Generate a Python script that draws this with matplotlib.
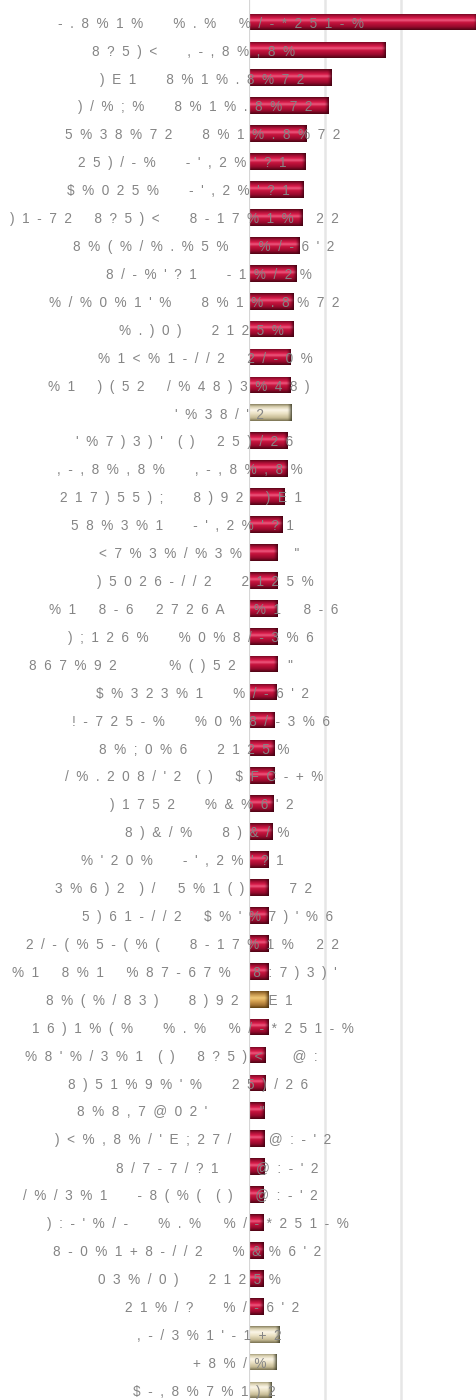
import numpy as np
import matplotlib
matplotlib.use("Agg")
import matplotlib.pyplot as plt
from matplotlib.colors import to_rgb
from matplotlib.transforms import blended_transform_factory

# ---- data -------------------------------------------------------------
labels = [
    "-.8%1%   %.%  %/-*251-%",
    "8?5)<   ,-,8%,8%",
    ")E1   8%1%.8%72",
    ")/%;%   8%1%.8%72",
    "5%38%72   8%1%.8%72",
    "25)/-%   -',2%'?1",
    "$%025%   -',2%'?1",
    ")1-72  8?5)<   8-17%1%  22",
    "8%(%/%.%5%   %/-6'2",
    "8/-%'?1   -1%/2%",
    "%/%0%1'%   8%1%.8%72",
    "%.)0)   2125%",
    "%1<%1-//2  2/-0%",
    "%1  )(52  /%48)3%48)",
    "'%38/'2",
    "'%7)3)' ()  25)/26",
    ",-,8%,8%   ,-,8%,8%",
    "217)55);   8)92  )E1",
    "58%3%1   -',2%'?1",
    '<7%3%/%3%      "',
    ")5026-//2   2125%",
    "%1  8-6  2726A   %1  8-6",
    ");126%   %0%8/-3%6",
    '867%92      %()52      "',
    "$%323%1   %/-6'2",
    "!-725-%   %0%8/-3%6",
    "8%;0%6   2125%",
    "/%.208/'2 ()  $FC-+%",
    ")1752   %&%6'2",
    "8)&/%   8)&/%",
    "%'20%   -',2%'?1",
    "3%6)2 )/  5%1()     72",
    "5)61-//2  $%'%7)'%6",
    "2/-(%5-(%(   8-17%1%  22",
    "%1  8%1  %87-67%  8:7)3)'",
    "8%(%/83)   8)92   E1",
    "16)1%(%   %.%  %/-*251-%",
    "%8'%/3%1 ()  8?5)<   @:",
    "8)51%9%'%   25)/26",
    '8%8,7@02\'      "',
    ")<%,8%/'E;27/    @:-'2",
    "8/7-7/?1    @:-'2",
    "/%/3%1   -8(%( ()  @:-'2",
    "):-'%/-   %.%  %/-*251-%",
    "8-0%1+8-//2   %&%6'2",
    "03%/0)   2125%",
    "21%/?   %/-6'2",
    ",-/3%1'-1+2",
    "+8%/%",
    "$-,8%7%1)2",
]

values = [
    30.0, 18.0, 10.9, 10.4, 7.5, 7.4, 7.2, 7.0, 6.6, 6.3,
    5.9, 5.8, 5.5, 5.4, 5.6, 5.0, 5.0, 4.7, 4.4, 3.8,
    3.8, 3.8, 3.7, 3.7, 3.6, 3.4, 3.4, 3.3, 3.2, 3.1,
    2.6, 2.6, 2.6, 2.6, 2.6, 2.6, 2.5, 2.2, 2.2, 2.1,
    2.1, 2.1, 1.9, 1.9, 1.9, 1.9, 1.9, 4.0, 3.6, 3.0,
]

tones = ["red"] * 50
tones[14] = "cream"
tones[35] = "gold"
tones[47] = tones[48] = tones[49] = "cream"

# left edge of each label, in figure pixels
label_left = [
    58, 92, 100, 78, 65, 78, 67, 10, 73, 106,
    49, 119, 98, 48, 175, 76, 57, 60, 71, 99,
    97, 49, 68, 29, 96, 72, 99, 65, 110, 125,
    81, 55, 82, 26, 12, 46, 32, 25, 68, 77,
    55, 116, 23, 47, 53, 98, 125, 137, 193, 133,
]

# ---- styling ----------------------------------------------------------
W, H = 476, 1400
AX_LEFT = 249
PX_PER_UNIT = 7.6
ROW_TOP, ROW_BOTTOM = 22, 1390

palettes = {
    # vertical stops (position, colour) from the top edge to the bottom edge
    "red": [(0.0, "#5a0618"), (0.12, "#9c0c30"), (0.30, "#d81c4a"),
            (0.42, "#ee5a80"), (0.55, "#c8143e"), (0.80, "#9a0a2e"),
            (1.0, "#4e0414")],
    "cream": [(0.0, "#8a8262"), (0.15, "#d8cfae"), (0.35, "#fbf6e8"),
              (0.55, "#ece3c6"), (0.82, "#c6bb94"), (1.0, "#7a7252")],
    "gold": [(0.0, "#7a5420"), (0.18, "#c09048"), (0.40, "#f0c878"),
             (0.60, "#d4a050"), (0.85, "#a07030"), (1.0, "#604010")],
}
cap_colors = {"red": "#3e0010", "cream": "#3e3e2a", "gold": "#4a3010"}
base_colors = {"red": "#c8143e", "cream": "#e8dfc2", "gold": "#d4a050"}


def profile(stops, n=48):
    t = np.linspace(0, 1, n)
    pos = [p for p, _ in stops]
    cols = np.array([to_rgb(c) for _, c in stops])
    return np.stack([np.interp(t, pos, cols[:, k]) for k in range(3)], axis=-1)


def tracked(s):
    out = []
    for ch in s:
        out.append("  " if ch == " " else ch + "  ")
    return "".join(out).rstrip()


fig = plt.figure(figsize=(W / 100, H / 100), dpi=100)
fig.patch.set_facecolor("white")
ax = fig.add_axes([AX_LEFT / W, 0, 1 - AX_LEFT / W, 1])
ax.set_facecolor("white")

n = len(values)
rows = np.arange(n)
step = (ROW_BOTTOM - ROW_TOP) / (n - 1)
y_top = -ROW_TOP / step
y_bot = (n - 1) + (H - ROW_BOTTOM) / step
x_max = (W - AX_LEFT) / PX_PER_UNIT

bars = ax.barh(rows, values, height=0.6,
               color=[base_colors[t] for t in tones], linewidth=0, zorder=2)

cap_w = 4.5 / PX_PER_UNIT
for patch, tone in zip(bars.patches, tones):
    x0, y0 = patch.get_x(), patch.get_y()
    w, h = patch.get_width(), patch.get_height()
    prof = profile(palettes[tone])
    body = prof[:, None, :]
    im = ax.imshow(body, extent=(x0, x0 + w, y0 + h, y0), aspect="auto",
                   interpolation="bilinear", zorder=3)
    im.set_clip_path(patch)
    # darker rounded end of each bar
    cw = min(cap_w, w * 0.35)
    m = 12
    fade = np.linspace(0, 1, m) ** 1.5
    cap_rgb = np.array(to_rgb(cap_colors[tone]))
    cap = prof[:, None, :] * (1 - fade[None, :, None] * 0.85) + \
        cap_rgb[None, None, :] * fade[None, :, None] * 0.85
    im2 = ax.imshow(cap, extent=(x0 + w - cw, x0 + w, y0 + h, y0),
                    aspect="auto", interpolation="bilinear", zorder=3)
    im2.set_clip_path(patch)

ax.set_xlim(0, x_max)
ax.set_ylim(y_bot, y_top)

for gx in (10, 20):
    ax.axvline(gx, color="#e6e6e6", lw=1.8, zorder=1)
ax.axvline(0, color="#d6d6d6", lw=1.6, zorder=4)

for side in ax.spines.values():
    side.set_visible(False)
ax.set_xticks([])
ax.set_yticks([])

trans = blended_transform_factory(fig.transFigure, ax.transData)
for r, (lab, lx) in enumerate(zip(labels, label_left)):
    fig.text(lx / W, r + 0.06, tracked(lab), transform=trans, ha="left",
             va="center", fontsize=9.8, color="#858585",
             family=["Liberation Sans", "DejaVu Sans"], parse_math=False,
             zorder=6)

fig.savefig("out.png", dpi=100, facecolor="white")
